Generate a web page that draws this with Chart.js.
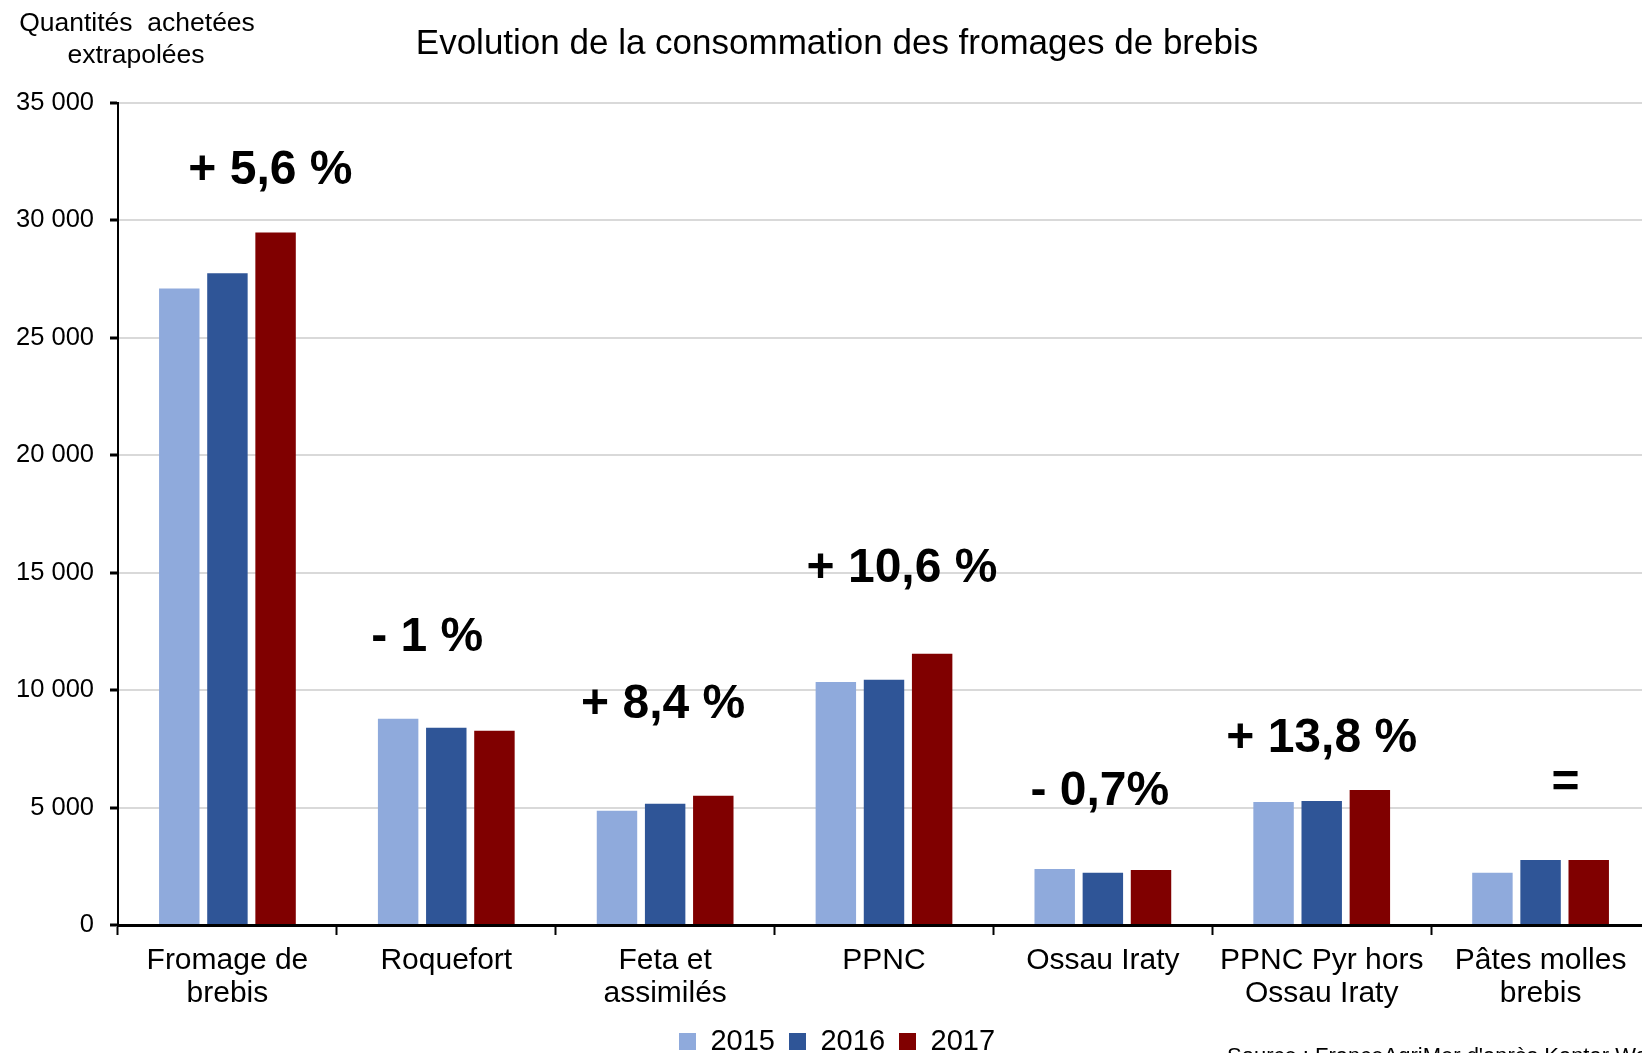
<!DOCTYPE html>
<html>
<head>
<meta charset="utf-8">
<script src="https://cdn.jsdelivr.net/npm/chart.js@4"></script>
<style>
  html, body { margin: 0; padding: 0; overflow: hidden; background: #fff; }
  #wrap { width: 1650px; height: 1080px; }
</style>
</head>
<body>
<div id="wrap"><canvas id="myChart"></canvas></div>
<script>
const categories = [
    ["Fromage de", "brebis"],
    "Roquefort",
    ["Feta et", "assimilés"],
    "PPNC",
    "Ossau Iraty",
    ["PPNC Pyr hors", "Ossau Iraty"],
    ["Pâtes molles", "brebis"],
];
const years = ["2015", "2016", "2017"];
const values2015 = [27100, 8780, 4860, 10350, 2380, 5240, 2220];
const values2016 = [27750, 8400, 5160, 10440, 2220, 5280, 2770];
const values2017 = [29490, 8270, 5500, 11550, 2340, 5750, 2770];
const changeLabels = ["+ 5,6 %", "- 1 %", "+ 8,4 %", "+ 10,6 %", "- 0,7%", "+ 13,8 %", "="];
const yTicks = [0, 5000, 10000, 15000, 20000, 25000, 30000, 35000];

const FONT = "'Liberation Sans', Arial, sans-serif";
Chart.defaults.font.family = FONT;
Chart.defaults.color = "#000";

// texts drawn by hand: y axis title, % changes, source
const extraText = {
    id: "extraText",
    afterDraw(chart, args, opts) {
        const { ctx, scales } = chart;
        ctx.save();
        ctx.fillStyle = "#000";
        ctx.textAlign = "center";
        ctx.textBaseline = "middle";
        ctx.font = "26.5px " + FONT;
        ctx.fillText("Quantités  achetées", 137, 24);
        ctx.fillText("extrapolées", 136, 56);

        ctx.font = "bold 48px " + FONT;
        changeLabels.forEach((txt, i) => {
            const x = scales.x.getPixelForValue(i) + opts.dx[i];
            const y = scales.y.getPixelForValue(opts.at[i]);
            ctx.fillText(txt, x, y);
        });

        ctx.textAlign = "left";
        ctx.textBaseline = "top";
        ctx.font = "22px " + FONT;
        ctx.fillText("Source : FranceAgriMer d'après Kantar Worldpanel", 1227, 1046);
        ctx.restore();
    },
};

const ctx = document.getElementById("myChart");

const chart = new Chart(ctx, {
    type: "bar",
    data: {
        labels: categories,
        datasets: [
            { label: years[0], data: values2015, backgroundColor: "#8faadc" },
            { label: years[1], data: values2016, backgroundColor: "#2f5597" },
            { label: years[2], data: values2017, backgroundColor: "#800000" },
        ],
    },
    options: {
        responsive: true,
        maintainAspectRatio: false,
        animation: false,
        categoryPercentage: 0.66,
        barPercentage: 0.84,
        layout: { padding: { left: 24, right: 0, top: 0, bottom: 14 } },
        scales: {
            x: {
                afterFit: (scale) => {
                    scale.height = 88;
                },
                grid: {
                    drawOnChartArea: false,
                    tickLength: 10,
                    tickColor: "#000",
                    tickWidth: 2,
                },
                border: { color: "#000", width: 3 },
                ticks: {
                    padding: 9,
                    font: { size: 30, lineHeight: 1.1 },
                    color: "#000",
                },
            },
            y: {
                min: 0,
                max: 35000,
                afterBuildTicks: (scale) => {
                    scale.ticks = yTicks.map((v) => ({ value: v }));
                },
                afterFit: (scale) => {
                    scale.width = 94;
                    // labels are wider than the axis box, don't clip them
                    scale._computeLabelArea = () => undefined;
                },
                grid: {
                    color: "#d9d9d9",
                    lineWidth: 2,
                    tickLength: 8,
                    tickColor: "#000",
                    tickWidth: 3,
                },
                border: { color: "#000", width: 2 },
                ticks: {
                    padding: 16,
                    font: { size: 25.5 },
                    color: "#000",
                    callback: (v) => String(v).replace(/\B(?=(\d{3})+(?!\d))/g, " "),
                },
            },
        },
        plugins: {
            tooltip: { enabled: false },
            title: {
                display: true,
                text: "Evolution de la consommation des fromages de brebis",
                font: { size: 35, weight: "normal", lineHeight: 1.2 },
                color: "#000",
                padding: { top: 23, bottom: 38 },
            },
            legend: {
                position: "bottom",
                labels: {
                    boxWidth: 17,
                    boxHeight: 17,
                    padding: 14,
                    font: { size: 29 },
                    color: "#000",
                },
            },
            extraText: {
                at: [32100, 12230, 9380, 15170, 5680, 7910, 6030],
                dx: [43, -19, -2, 18, -3, 0, 25],
            },
        },
    },
    plugins: [extraText],
});
</script>
</body>
</html>
